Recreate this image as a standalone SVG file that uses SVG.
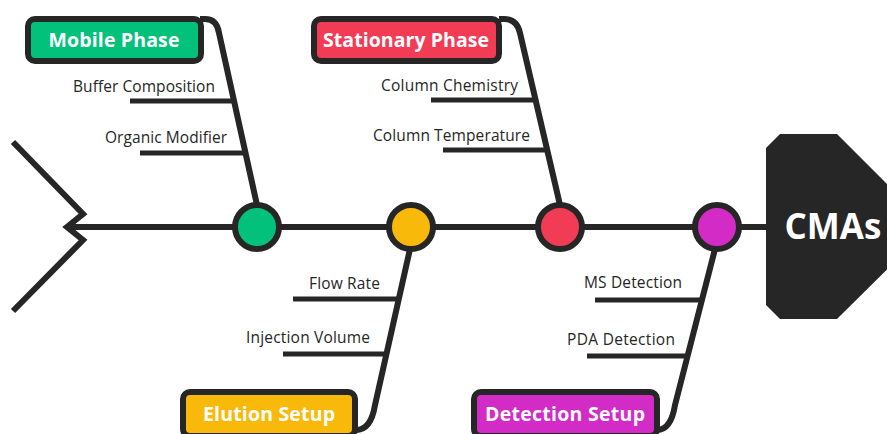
<svg xmlns="http://www.w3.org/2000/svg" width="887" height="434" viewBox="0 0 887 434">
<style>
.ln{fill:none;stroke:#262626;stroke-width:6;stroke-linejoin:miter;stroke-linecap:butt}
.br{fill:none;stroke:#262626;stroke-width:5}
.box{stroke:#262626;stroke-width:6}
.ttl{font-family:"Open Sans","Liberation Sans",sans-serif;font-weight:700;font-size:19.5px;fill:#fff;text-anchor:middle}
.lbl{font-family:"Open Sans","Liberation Sans",sans-serif;font-size:15.5px;fill:#262626;text-anchor:end}
.dot{stroke:#262626;stroke-width:6}
</style>
<rect width="887" height="434" fill="#fff"/>
<g id="connectors">
<path class="ln" d="M13,142 L83,214 L67,227 L83,240 L13,311"/>
<path class="ln" d="M67,227 H766"/>
<path class="ln" d="M200,19 H205 Q217,19 219,33 L257,205"/>
<path class="br" d="M130,101 H233 M140,153 H244"/>
<path class="ln" d="M499,19 H504 Q517,19 520,33 L560,205"/>
<path class="br" d="M431,100 H533 M443,150 H545"/>
<path class="ln" d="M410,249 L375,405 Q371,430 356,430"/>
<path class="br" d="M293,299 H398 M283,354 H386"/>
<path class="ln" d="M715,249 L675,405 Q671,430 657,430"/>
<path class="br" d="M595,300 H700 M587,356 H687"/>
</g>
<g id="mobile-phase">
<rect class="box" x="28" y="19" width="173" height="42" rx="7" fill="#02C27B"/>
<text class="ttl" x="114" y="47" textLength="131">Mobile Phase</text>
<text class="lbl" x="215" y="92" textLength="142">Buffer Composition</text>
<text class="lbl" x="227" y="143" textLength="122">Organic Modifier</text>
</g>
<g id="stationary-phase">
<rect class="box" x="314" y="19" width="185" height="42" rx="7" fill="#F23B55"/>
<text class="ttl" x="406" y="47" textLength="166">Stationary Phase</text>
<text class="lbl" x="518" y="91" textLength="137">Column Chemistry</text>
<text class="lbl" x="530" y="141" textLength="157">Column Temperature</text>
</g>
<g id="elution-setup">
<rect class="box" x="183" y="392" width="172" height="44" rx="7" fill="#F9B90A"/>
<text class="ttl" x="269" y="421" textLength="132">Elution Setup</text>
<text class="lbl" x="380" y="289" textLength="71">Flow Rate</text>
<text class="lbl" x="370" y="343" textLength="124">Injection Volume</text>
</g>
<g id="detection-setup">
<rect class="box" x="474" y="392" width="183" height="44" rx="7" fill="#D22BC6"/>
<text class="ttl" x="565" y="421" textLength="160">Detection Setup</text>
<text class="lbl" x="682" y="288" textLength="98">MS Detection</text>
<text class="lbl" x="675" y="345" textLength="108">PDA Detection</text>
</g>
<g id="nodes">
<circle class="dot" cx="257" cy="227" r="22" fill="#02C27B"/>
<circle class="dot" cx="411" cy="227" r="22" fill="#F9B90A"/>
<circle class="dot" cx="560" cy="227" r="22" fill="#F23B55"/>
<circle class="dot" cx="717" cy="227" r="22" fill="#D22BC6"/>
</g>
<g id="cmas">
<polygon points="780,134 837,134 930,227 837,319 780,319 766,305 766,148" fill="#262626"/>
<text x="833" y="239" font-family="'Open Sans','Liberation Sans',sans-serif" font-weight="700" font-size="35" fill="#fff" text-anchor="middle">CMAs</text>
</g>
</svg>
